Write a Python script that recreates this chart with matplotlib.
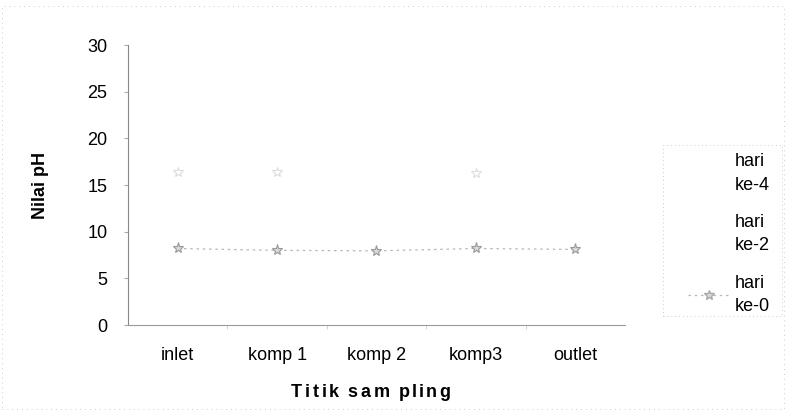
import matplotlib
matplotlib.use("Agg")
import matplotlib.pyplot as plt
import numpy as np
from matplotlib.lines import Line2D
from matplotlib.patches import Rectangle
from matplotlib.textpath import TextPath
from matplotlib.font_manager import FontProperties

plt.rcParams["font.family"] = ["Liberation Sans", "DejaVu Sans"]

# data
titik = ["inlet", "komp 1", "komp 2", "komp3", "outlet"]
hari_ke0 = [8.2, 8.0, 7.95, 8.2, 8.1]
hari_ke4 = [16.4, 16.4, np.nan, 16.3, np.nan]
y_ticks = [0, 5, 10, 15, 20, 25, 30]

W, H = 786, 413
fig = plt.figure(figsize=(W / 100, H / 100), dpi=100)
ax = fig.add_axes([0.163, 0.213, 0.632, 0.678])

x = np.arange(len(titik)) + 0.5

# hari ke-4: only faint markers survive
ax.plot(x, hari_ke4, linestyle="none", marker="*", ms=7,
        color="#dddddd", mfc="none", mew=0.8)
# hari ke-0
ax.plot(x, hari_ke0, linestyle=(0, (2, 3)), lw=0.9, color="#b8b8b8",
        marker="*", ms=8, mfc="#d8d8d8", mec="#9a9a9a", mew=0.8)

ax.set_xlim(0, len(titik))
ax.set_ylim(0, 30)
ax.set_yticks(y_ticks)
ax.set_yticklabels([str(v) for v in y_ticks], fontsize=13)
ax.set_xticks(x)
ax.set_xticklabels(titik, fontsize=13)
ax.set_xticks(np.arange(1, len(titik)), minor=True)
ax.tick_params(axis="x", which="major", length=0, pad=16)
ax.tick_params(axis="x", which="minor", length=3, color="#cccccc")
ax.tick_params(axis="y", length=3, color="#aaaaaa", pad=12)

for side in ["top", "right"]:
    ax.spines[side].set_visible(False)
ax.spines["left"].set_color("#888888")
ax.spines["left"].set_linewidth(0.8)
ax.spines["bottom"].set_color("#9a9a9a")
ax.spines["bottom"].set_linewidth(0.8)

fig.text(0.051, 0.55, "Nilai pH", fontsize=13, fontweight="bold",
         rotation=90, ha="center", va="center")


def tracked_text(s, xc, yc, size, tracking):
    """Write s centred at (xc, yc) in figure pixels with extra letter spacing."""
    fp = FontProperties(family="Liberation Sans", weight="bold", size=size)
    scale = 100 / 72
    bar = TextPath((0, 0), "|", prop=fp).get_extents().width
    advances = []
    for c in s:
        if c == " ":
            adv = 0.278 * size
        else:
            adv = TextPath((0, 0), c + "|", prop=fp).get_extents().width - bar
        advances.append(adv * scale + tracking)
    total = sum(advances) - tracking
    cx = xc - total / 2
    for c, adv in zip(s, advances):
        if c != " ":
            fig.text(cx / W, yc / H, c, fontsize=size, fontweight="bold",
                     ha="left", va="baseline")
        cx += adv


tracked_text("Titik sam pling", 371, H - 397, 13, 2.0)

# legend box on the right
fig.patches.append(Rectangle((0.843, 0.235), 0.152, 0.415,
                             transform=fig.transFigure, fill=False,
                             ec="#cccccc", lw=0.7, ls=(0, (1, 3))))
labels = ["hari\nke-4", "hari\nke-2", "hari\nke-0"]
for i, lab in enumerate(labels):
    yy = 0.58 - i * 0.147
    if i == 2:
        fig.add_artist(Line2D([0.875, 0.93], [yy, yy], transform=fig.transFigure,
                              ls=(0, (2, 3)), lw=0.9, color="#b8b8b8"))
        fig.add_artist(Line2D([0.9025], [yy], transform=fig.transFigure,
                              ls="none", marker="*", ms=7,
                              mfc="#d8d8d8", mec="#aaaaaa"))
    fig.text(0.935, yy, lab, fontsize=13, va="center", ha="left",
             linespacing=1.5)

# faint outer frame
fig.patches.append(Rectangle((0.003, 0.01), 0.994, 0.975,
                             transform=fig.transFigure, fill=False,
                             ec="#cccccc", lw=0.7, ls=(0, (1, 4))))

fig.savefig("out.png", dpi=100)
